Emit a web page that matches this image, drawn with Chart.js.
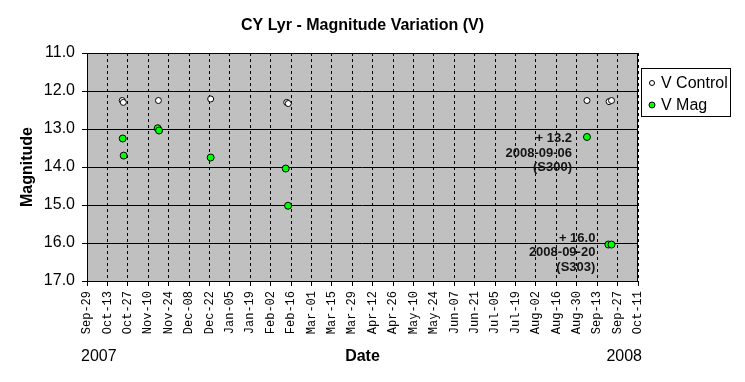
<!DOCTYPE html>
<html><head><meta charset="utf-8">
<script src="https://cdn.jsdelivr.net/npm/chart.js@4/dist/chart.umd.min.js"></script>
<style>html,body{margin:0;padding:0;background:#fff}#wrap{width:745px;height:382px}</style>
</head><body><div id="wrap"><canvas id="c" width="745" height="382"></canvas></div>
<script>
const chartTitle = 'CY Lyr - Magnitude Variation (V)';
const yTitle = 'Magnitude';
const xTitle = 'Date';
const startYearLabel = '2007';
const endYearLabel = '2008';
const startDate = '2007-09-29T00:00';
const tickLabels = ['Sep-29','Oct-13','Oct-27','Nov-10','Nov-24','Dec-08','Dec-22','Jan-05','Jan-19','Feb-02','Feb-16','Mar-01','Mar-15','Mar-29','Apr-12','Apr-26','May-10','May-24','Jun-07','Jun-21','Jul-05','Jul-19','Aug-02','Aug-16','Aug-30','Sep-13','Sep-27','Oct-11'];
const yTicks = [11,11.5,12,12.5,13,13.5,14,14.5,15,15.5,16,16.5,17];

const controlDates = ['2007-10-23T04:00','2007-10-23T22:00','2007-11-17T00:00','2007-12-22T20:00','2008-02-13T00:00','2008-02-14T02:00','2008-09-06T00:00','2008-09-21T04:00','2008-09-22T20:00'];
const controlMags  = [12.25, 12.30, 12.25, 12.21, 12.30, 12.33, 12.25, 12.28, 12.25];
const magDates = ['2007-10-23T12:00','2007-10-24T04:00','2007-11-16T12:00','2007-11-17T10:00','2007-12-22T20:00','2008-02-12T08:00','2008-02-13T22:00','2008-09-06T00:00','2008-09-20T16:00','2008-09-22T20:00'];
const magMags  = [13.25, 13.70, 12.98, 13.04, 13.75, 14.04, 15.02, 13.21, 16.04, 16.04];

const noteTexts = [['+ 13.2','2008-09-06','(S300)'], ['+ 16.0','2008-09-20','(S303)']];
const noteDates = ['2008-09-06T00:00','2008-09-20T00:00'];
const noteMags = [13.21, 16.04];

const DAY = 86400000;
const t0 = Date.parse(startDate + ':00Z');
const toDay = s => (Date.parse(s + ':00Z') - t0) / DAY;
const pts = (ds, ms) => ds.map((d, i) => ({x: toDay(d), y: ms[i]}));

const SANS = '"Liberation Sans", Arial, sans-serif';
const noteOffsets = [{dx: -15, dy: 5}, {dx: -12, dy: -3}];

const decor = {
  id: 'decor',
  beforeDraw(chart) {
    const {ctx, chartArea: a} = chart;
    ctx.save();
    ctx.fillStyle = '#c0c0c0';
    ctx.fillRect(a.left, a.top, a.right - a.left, a.bottom - a.top);
    ctx.restore();
  },
  afterDraw(chart) {
    const {ctx, chartArea: a, scales} = chart;
    ctx.save();
    ctx.strokeStyle = '#000'; ctx.lineWidth = 1;
    ctx.strokeRect(Math.round(a.left) + 0.5, Math.round(a.top) + 0.5, Math.round(a.right - a.left) - 1, Math.round(a.bottom - a.top));
    ctx.fillStyle = '#000';
    const cx = (a.left + a.right) / 2;
    ctx.textAlign = 'center'; ctx.textBaseline = 'alphabetic';
    ctx.font = 'bold 16px ' + SANS;
    ctx.fillText(chartTitle, cx, 30);
    ctx.fillText(xTitle, cx, 361);
    ctx.save();
    ctx.translate(32, (a.top + a.bottom) / 2);
    ctx.rotate(-Math.PI / 2);
    ctx.fillText(yTitle, 0, 0);
    ctx.restore();
    ctx.font = '16px ' + SANS;
    ctx.textAlign = 'left'; ctx.fillText(startYearLabel, 81, 361);
    ctx.textAlign = 'right'; ctx.fillText(endYearLabel, 642, 361);
    // annotations
    ctx.font = 'bold 13px ' + SANS;
    ctx.fillStyle = '#141414';
    ctx.textAlign = 'right';
    noteTexts.forEach((lines, i) => {
      const px = scales.x.getPixelForValue(toDay(noteDates[i])) + noteOffsets[i].dx;
      const py = scales.y.getPixelForValue(noteMags[i]) + noteOffsets[i].dy;
      lines.forEach((t, j) => ctx.fillText(t, px, py + j * 14.6));
    });
    // legend
    ctx.fillStyle = '#fff';
    ctx.fillRect(641.5, 68.5, 89, 48);
    ctx.strokeStyle = '#000';
    ctx.strokeRect(641.5, 68.5, 89, 48);
    const ds = chart.data.datasets;
    const rows = [83, 105];
    ds.forEach((d, i) => {
      ctx.beginPath();
      ctx.arc(652, rows[i], i === 0 ? 2.5 : 3, 0, Math.PI * 2);
      ctx.fillStyle = d.backgroundColor; ctx.fill();
      ctx.strokeStyle = '#000'; ctx.stroke();
      ctx.fillStyle = '#000';
      ctx.font = '16px ' + SANS;
      ctx.textAlign = 'left';
      ctx.fillText(d.label, 661, rows[i] + 5);
    });
    ctx.restore();
  }
};

new Chart(document.getElementById('c'), {
  type: 'scatter',
  data: {
    datasets: [
      {label: 'V Control', data: pts(controlDates, controlMags), backgroundColor: '#ffffff', borderColor: '#000', borderWidth: 1, pointRadius: 3},
      {label: 'V Mag', data: pts(magDates, magMags), backgroundColor: '#00ff00', borderColor: '#000', borderWidth: 1, pointRadius: 3.5}
    ]
  },
  options: {
    responsive: false, animation: false, devicePixelRatio: 1,
    layout: {padding: {top: 53, right: 107, bottom: 0, left: 0}},
    plugins: {legend: {display: false}, tooltip: {enabled: false}, title: {display: false}},
    scales: {
      x: {
        type: 'linear', min: 0, max: (tickLabels.length - 1) * 14,
        afterBuildTicks: s => { s.ticks = tickLabels.map((_, i) => ({value: i * 14})); },
        afterFit: s => { s.height = 101; },
        ticks: {autoSkip: false, minRotation: 90, maxRotation: 90, padding: 5, color: '#000',
          font: {family: '"Liberation Mono", "Courier New", monospace', size: 12},
          callback: v => tickLabels[Math.round(v / 14)]},
        grid: {color: '#000', lineWidth: 1, tickLength: 5, tickColor: '#000'},
        border: {display: false, dash: [3, 3]}
      },
      y: {
        type: 'linear', reverse: true, min: 11, max: 17,
        afterBuildTicks: s => { s.ticks = yTicks.map(v => ({value: v})); },
        afterFit: s => { s.width = 87; },
        ticks: {color: '#000', padding: 7, font: {family: SANS, size: 16},
          callback: v => (v % 1 === 0 ? v.toFixed(1) : '')},
        grid: {color: c => (c.tick && c.tick.value % 1 === 0 ? '#000' : 'rgba(0,0,0,0)'), lineWidth: 1, tickLength: 5, tickColor: '#000'},
        border: {display: false}
      }
    }
  },
  plugins: [decor]
});
</script>
</body></html>
